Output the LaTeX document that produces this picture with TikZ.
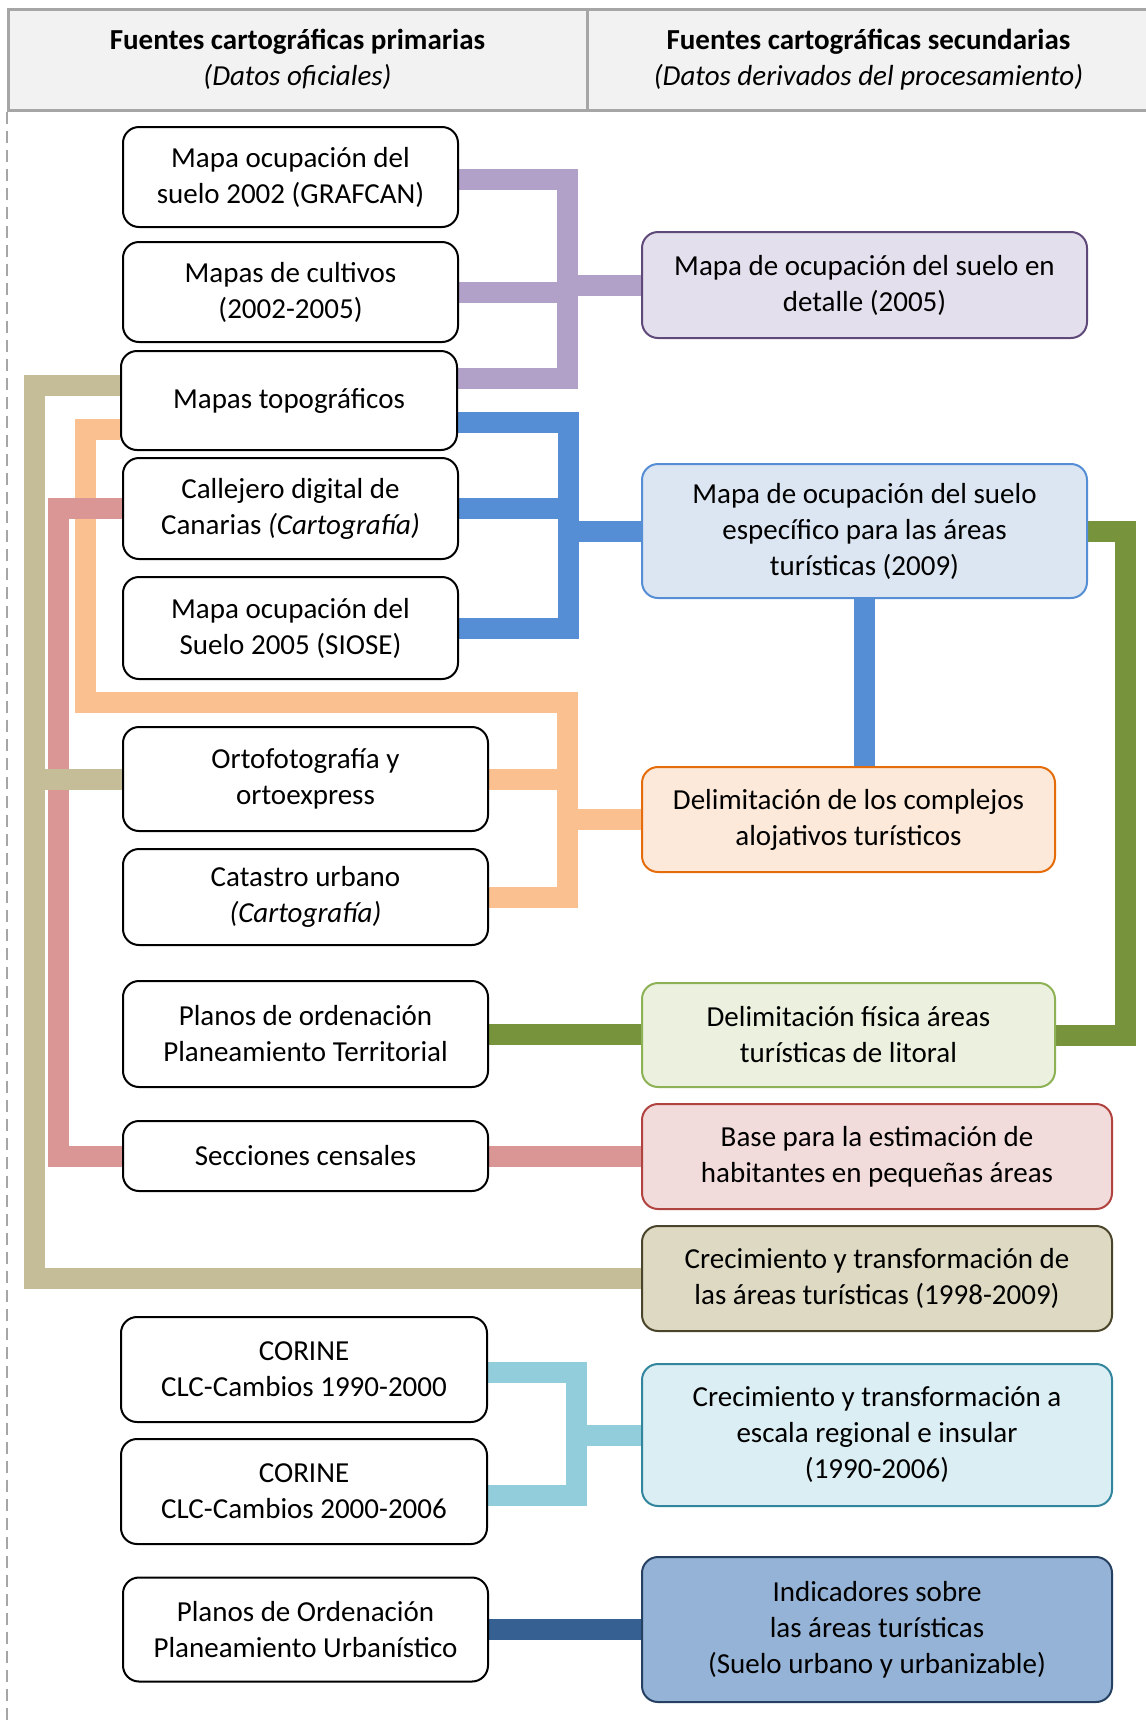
\documentclass[tikz,border=0pt]{standalone}
\usepackage{fontspec}
\setmainfont{Carlito}
\usetikzlibrary{backgrounds}

\definecolor{hdrfill}{HTML}{F2F2F2}
\definecolor{hdrline}{HTML}{A6A6A6}
\definecolor{cPurple}{HTML}{B1A0C7}
\definecolor{cBlue}{HTML}{558ED5}
\definecolor{cOrange}{HTML}{FAC090}
\definecolor{cRose}{HTML}{D99694}
\definecolor{cTan}{HTML}{C4BD97}
\definecolor{cGreen}{HTML}{77933C}
\definecolor{cAqua}{HTML}{92CDDC}
\definecolor{cNavy}{HTML}{366092}
% borders and fills of the derived-product boxes
\definecolor{aLine}{HTML}{5F497A}\definecolor{aFill}{HTML}{E4DFEC}
\definecolor{bLine}{HTML}{558ED5}\definecolor{bFill}{HTML}{DCE6F2}
\definecolor{cLine}{HTML}{E46C0A}\definecolor{cFill}{HTML}{FDE9D9}
\definecolor{dLine}{HTML}{8DB255}\definecolor{dFill}{HTML}{EBF1DE}
\definecolor{eLine}{HTML}{B0433F}\definecolor{eFill}{HTML}{F2DCDB}
\definecolor{fLine}{HTML}{4A452A}\definecolor{fFill}{HTML}{DDD9C3}
\definecolor{gLine}{HTML}{31859C}\definecolor{gFill}{HTML}{DBEEF4}
\definecolor{hLine}{HTML}{254061}\definecolor{hFill}{HTML}{95B3D7}

\begin{document}
\begin{tikzpicture}[x=0.5pt,y=-0.5pt,
  txt/.style={font=\fontsize{14.5}{18}\selectfont, align=center},
  hdrcell/.style={txt, draw=hdrline, fill=hdrfill, line width=1.5pt, inner sep=0pt},
  src/.style={txt, draw=black, line width=1pt, fill=white, rounded corners=8pt, inner sep=0pt},
  res/.style 2 args={src, draw=#1, fill=#2},
  link/.style={line width=10.5pt, line join=miter},
  lkpurple/.style={link, draw=cPurple},
  lkblue/.style={link, draw=cBlue},
  lkorange/.style={link, draw=cOrange},
  lkrose/.style={link, draw=cRose},
  lktan/.style={link, draw=cTan},
  lkgreen/.style={link, draw=cGreen},
  lkaqua/.style={link, draw=cAqua},
  lknavy/.style={link, draw=cNavy},
  sep/.style={draw=hdrline, line width=1pt, dash pattern=on 6pt off 3.5pt}
]
\useasboundingbox (0,0) rectangle (1146,1720);

% column headers
\node[hdrcell, minimum width=289.5pt, minimum height=50.5pt] (h1) at (297.5,59.5)
  {\textbf{Fuentes cartográficas primarias}\\\textit{(Datos oficiales)}};
\node[hdrcell, minimum width=281.5pt, minimum height=50.5pt] (h2) at (868.5,59.5)
  {\textbf{Fuentes cartográficas secundarias}\\\textit{(Datos derivados del procesamiento)}};
\draw[sep] (h1.south west) -- (h1.south west |- 0,1720);

% primary sources
\node[src, minimum width=167.5pt, minimum height=50pt]   (b1)  at (290.5,177)    {Mapa ocupación del\\suelo 2002 (GRAFCAN)};
\node[src, minimum width=167.5pt, minimum height=50pt]   (b2)  at (290.5,292)    {Mapas de cultivos\\(2002-2005)};
\node[src, minimum width=168pt,   minimum height=49.5pt] (b3)  at (289,400.5)    {Mapas topográficos};
\node[src, minimum width=167.5pt, minimum height=50.5pt] (b4)  at (290.5,508.5)  {Callejero digital de\\Canarias \textit{(Cartografía)}};
\node[src, minimum width=167.5pt, minimum height=51pt]   (b5)  at (290.5,628)    {Mapa ocupación del\\Suelo 2005 (SIOSE)};
\node[src, minimum width=182.5pt, minimum height=52pt]   (b6)  at (305.5,779)    {Ortofotografía y\\ortoexpress};
\node[src, minimum width=182.5pt, minimum height=48pt]   (b7)  at (305.5,897)    {Catastro urbano\\\textit{(Cartografía)}};
\node[src, minimum width=182.5pt, minimum height=53pt]   (b8)  at (305.5,1034)   {Planos de ordenación\\Planeamiento Territorial};
\node[src, minimum width=182.5pt, minimum height=35pt]   (b9)  at (305.5,1156)   {Secciones censales};
\node[src, minimum width=183pt,   minimum height=52.5pt] (b10) at (304,1369.5)   {CORINE\\CLC-Cambios 1990-2000};
\node[src, minimum width=183pt,   minimum height=52.5pt] (b11) at (304,1491.5)   {CORINE\\CLC-Cambios 2000-2006};
\node[src, minimum width=182.5pt, minimum height=52pt]   (b12) at (305.5,1629.5) {Planos de Ordenación\\Planeamiento Urbanístico};

% derived products
\node[res={aLine}{aFill}, minimum width=222.5pt, minimum height=53pt]   (A) at (864.5,285)  {Mapa de ocupación del suelo en\\detalle (2005)};
\node[res={bLine}{bFill}, minimum width=222.5pt, minimum height=67pt]   (B) at (864.5,531)  {Mapa de ocupación del suelo\\específico para las áreas\\turísticas (2009)};
\node[res={cLine}{cFill}, minimum width=206.5pt, minimum height=52.5pt] (C) at (848.5,819.5) {Delimitación de los complejos\\alojativos turísticos};
\node[res={dLine}{dFill}, minimum width=206.5pt, minimum height=52pt]   (D) at (848.5,1035) {Delimitación física áreas\\turísticas de litoral};
\node[res={eLine}{eFill}, minimum width=235pt,   minimum height=52.5pt] (E) at (877,1156.5) {Base para la estimación de\\habitantes en pequeñas áreas};
\node[res={fLine}{fFill}, minimum width=235pt,   minimum height=52.5pt] (F) at (877,1278.5) {Crecimiento y transformación de\\las áreas turísticas (1998-2009)};
\node[res={gLine}{gFill}, minimum width=235pt,   minimum height=71pt]   (G) at (877,1435)   {Crecimiento y transformación a\\escala regional e insular\\(1990-2006)};
\node[res={hLine}{hFill}, minimum width=235pt,   minimum height=72.5pt] (H) at (877,1629.5) {Indicadores sobre\\las áreas turísticas\\(Suelo urbano y urbanizable)};

% vertical bus positions
\coordinate (pbus) at (567,0);
\coordinate (bbus) at (568,0);
\coordinate (obus) at (567,0);
\coordinate (abus) at (576,0);
\coordinate (gbus) at (1125,0);
\coordinate (rbus) at (58,0);
\coordinate (tbus) at (34,0);
\coordinate (olft) at (85,0);

\begin{scope}[on background layer]
  % purple bracket
  \draw[lkpurple] ([yshift=-1pt]b1.east) -| ([yshift=11pt]b3.east -| pbus) -- ([yshift=11pt]b3.east);
  \draw[lkpurple] (b2.east) -- (b2.east -| pbus);
  \draw[lkpurple] (A.west -| pbus) -- (A.west);
  % blue bracket
  \draw[lkblue] ([yshift=-11pt]b3.east) -| (b5.east -| bbus) -- (b5.east);
  \draw[lkblue] (b4.east) -- (b4.east -| bbus);
  \draw[lkblue] (B.west -| bbus) -- (B.west);
  \draw[lkblue] (B.south) -- (B.south |- C.north);
  % orange loop
  \draw[lkorange] ([yshift=-14.5pt]b3.west) -| (85,702) -| (b7.east -| obus) -- (b7.east);
  \draw[lkorange] (b6.east) -- (b6.east -| obus);
  \draw[lkorange] (C.west -| obus) -- (C.west);
  % rose line
  \draw[lkrose] (b4.west) -| (b9.west -| rbus) -- (b9.west);
  \draw[lkrose] (b9.east) -- (b9.east -| E.west);
  % tan line
  \draw[lktan] ([yshift=7.5pt]b3.west) -| (F.west -| tbus) -- (F.west);
  \draw[lktan] (b6.west -| tbus) -- (b6.west);
  % green line
  \draw[lkgreen] (B.east) -| (D.east -| gbus) -- (D.east);
  \draw[lkgreen] (b8.east) -- (b8.east -| D.west);
  % aqua bracket
  \draw[lkaqua] ([yshift=-1.5pt]b10.east) -| ([yshift=-2pt]b11.east -| abus) -- ([yshift=-2pt]b11.east);
  \draw[lkaqua] (G.west -| abus) -- (G.west);
  % navy line
  \draw[lknavy] (b12.east) -- (H.west);
\end{scope}
\end{tikzpicture}
\end{document}
